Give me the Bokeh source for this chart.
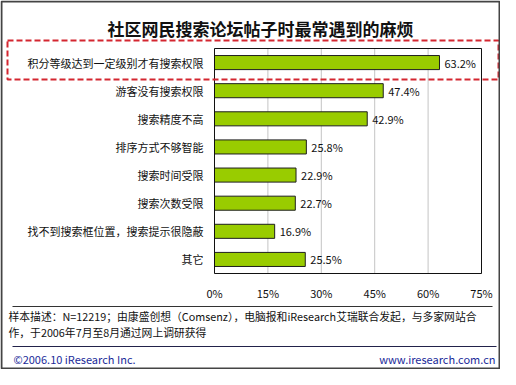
from bokeh.plotting import figure
from bokeh.models import ColumnDataSource, Range1d, Label, BoxAnnotation
from bokeh.core.properties import value
from bokeh.embed import file_html
from bokeh.resources import INLINE

categories = ["积分等级达到一定级别才有搜索权限", "游客没有搜索权限", "搜索精度不高", "排序方式不够智能",
              "搜索时间受限", "搜索次数受限", "找不到搜索框位置，搜索提示很隐蔽", "其它"]
values = [63.2, 47.4, 42.9, 25.8, 22.9, 22.7, 16.9, 25.5]
tick_values = [0, 15, 30, 45, 60, 75]
tick_labels = ["0%", "15%", "30%", "45%", "60%", "75%"]
title_text = "社区网民搜索论坛帖子时最常遇到的麻烦"
note_line1 = "样本描述：N=12219；由康盛创想（Comsenz），电脑报和iResearch艾瑞联合发起，与多家网站合"
note_line2 = "作，于2006年7月至8月通过网上调研获得"
footer_left = "©2006.10 iResearch Inc."
footer_right = "www.iresearch.com.cn"

# ---- layout (canvas pixels, from top-left) ----
W, H = 500, 369
PX_L, PX_R, PY_T, PY_B = 214, 481, 48, 273   # plot area
FONT = "Noto Sans CJK SC"

n = len(categories)
xmax = tick_values[-1]
kx = (PX_R - PX_L) / xmax
band = (PY_B - PY_T) / n

p = figure(width=W, height=H, output_backend="svg", toolbar_location=None,
           x_range=Range1d(-PX_L / kx, (W - PX_L) / kx),
           y_range=Range1d(-0.5 + (H - PY_T) / band, -0.5 - PY_T / band),
           x_axis_location=None, y_axis_location=None, min_border=0)
p.grid.visible = False
p.outline_line_color = None
p.background_fill_color = "white"
p.border_fill_color = "white"

idx = list(range(n))
src = ColumnDataSource(dict(y=idx, cat=categories, val=values,
                            lab=[f"{v}%" for v in values]))
tsrc = ColumnDataSource(dict(x=tick_values, lab=tick_labels))

# grid lines
p.segment(x0="x", x1="x", y0=-0.5, y1=n - 0.5, source=tsrc, line_color="#c4c4c4", line_width=1)
# bars
p.hbar(y="y", right="val", left=0, height=0.5, source=src,
       fill_color="#99CC00", line_color="#1e1e1e", line_width=1)
# plot-area outline
p.quad(left=0, right=xmax, top=-0.5, bottom=n - 0.5, fill_color=None,
       line_color="#111111", line_width=1)
# value labels
p.text(x="val", y="y", text="lab", source=src, x_offset=5, text_align="left",
       text_baseline="middle", text_font=value(FONT), text_font_size="11px",
       text_color="#111111")
# category labels
p.text(x=0, y="y", text="cat", source=src, x_offset=-11, text_align="right",
       text_baseline="middle", text_font=value(FONT), text_font_size="11px",
       text_color="#111111")
# tick labels
p.text(x="x", y=n - 0.5 + (292 - PY_B) / band, text="lab", source=tsrc, text_align="center",
       text_baseline="middle", text_font=value(FONT), text_font_size="11px",
       text_color="#111111")


def label(x, y, text, **kw):
    p.add_layout(Label(x=x, y=H - y, x_units="screen", y_units="screen", text=text,
                       text_font=FONT, **kw))


def box(l, r, t, b, **kw):
    p.add_layout(BoxAnnotation(left=l, right=r, top=H - t, bottom=H - b,
                               left_units="screen", right_units="screen",
                               top_units="screen", bottom_units="screen", **kw))


label(260, 28, title_text, text_align="center", text_baseline="middle",
      text_font_size="17px", text_font_style="bold", text_color="#111111")
box(7, 498, 40, 79, fill_alpha=0, line_color="#d42630", line_alpha=1, line_width=2,
    line_dash="6 3")
box(12, 492, 305.5, 306.5, fill_color="#333333", fill_alpha=1, line_color=None)
label(8, 315, note_line1, text_align="left", text_baseline="middle",
      text_font_size="10.8px", text_color="#111111")
label(8, 331, note_line2, text_align="left", text_baseline="middle",
      text_font_size="10.8px", text_color="#111111")
box(12, 496, 345.5, 346.5, fill_color="#22224a", fill_alpha=1, line_color=None)
label(13, 358, footer_left, text_align="left", text_baseline="middle",
      text_font_size="11px", text_color="#1a2a99")
label(495, 358, footer_right, text_align="right", text_baseline="middle",
      text_font_size="11px", text_color="#1a2a99")
box(1, 499, 1, 368, fill_alpha=0, line_color="#444444", line_alpha=1, line_width=2)

open("out.html", "w").write(file_html(p, INLINE))
